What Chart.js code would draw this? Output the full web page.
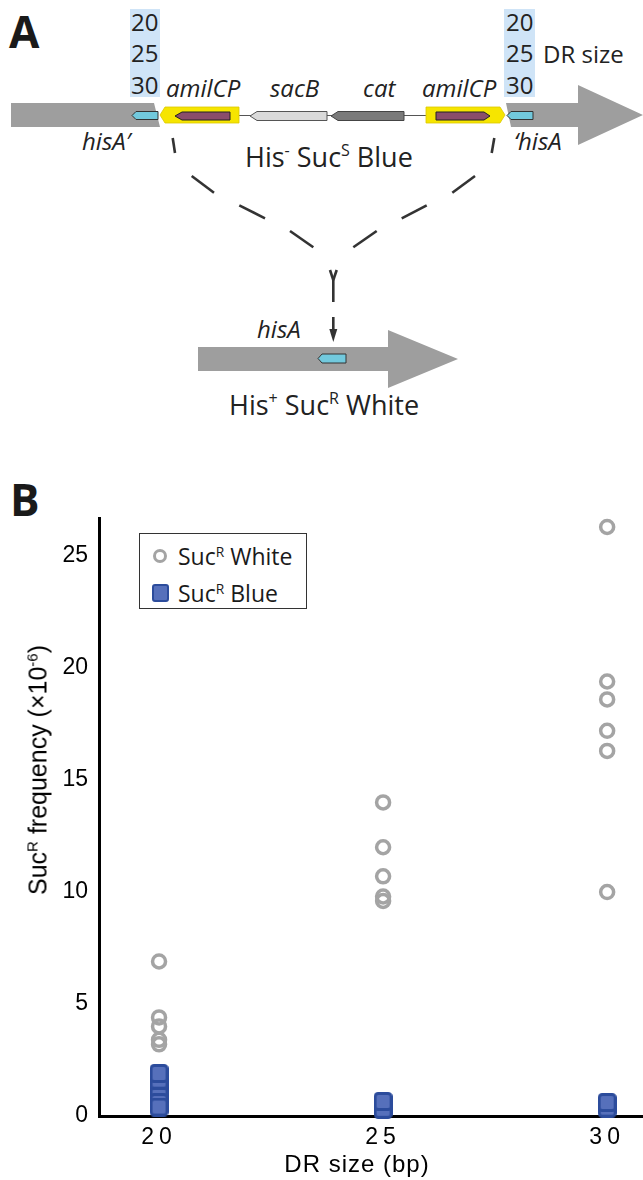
<!DOCTYPE html>
<html>
<head>
<meta charset="utf-8">
<script src="https://cdn.jsdelivr.net/npm/chart.js@4.4.1/dist/chart.umd.min.js"></script>
<style>
  body { margin: 0; width: 643px; height: 1180px; position: relative; overflow: hidden; background: #fff; font-family: "Open Sans", sans-serif; }
  #panelA { position: absolute; left: 0; top: 0; }
  #labelB { position: absolute; left: 10px; top: 469px; font: 700 44px "Open Sans", sans-serif; color: #1a1a1a; }
  #chartB { position: absolute; left: 0; top: 470px; }
  #yTitle { position: absolute; left: 38px; top: 770px; transform: translate(-50%, -50%) rotate(-90deg); white-space: nowrap; font: 25px "Liberation Sans", Arial, sans-serif; color: #000; }
  #yTitle sup, #legend sup { font-size: 0.6em; vertical-align: 0.6em; line-height: 0; }
  #legend { position: absolute; left: 139px; top: 533px; width: 166px; height: 74px; border: 1.5px solid #333; background: #fff; }
  .item { position: absolute; left: 0; height: 30px; display: flex; align-items: center; font: 23px "Open Sans", sans-serif; color: #1a1a1a; }
  .mark { width: 26px; margin-left: 7px; margin-right: 5px; display: flex; justify-content: center; }
</style>
</head>
<body>

<svg id="panelA" width="643" height="440" font-family="Open Sans, sans-serif" fill="#222">
  <text x="9" y="48" font-size="44" font-weight="700" fill="#1a1a1a">A</text>
  <rect x="130" y="9" width="30" height="88" fill="#cfe4f7"/>
  <rect x="504" y="9" width="31" height="88" fill="#cfe4f7"/>
  <g font-size="24">
    <text x="131" y="31">20</text>
    <text x="131" y="62">25</text>
    <text x="131" y="94">30</text>
    <text x="506" y="31">20</text>
    <text x="506" y="62">25</text>
    <text x="506" y="94">30</text>
    <text x="543" y="63">DR size</text>
  </g>

  <!-- chromosome -->
  <polygon points="11,103 154,103 160,127 11,127" fill="#9e9e9e"/>
  <polygon points="506,103 578,103 578,85 643,115 578,145 578,127 511,127" fill="#9e9e9e"/>
  <line x1="239" y1="115.5" x2="426" y2="115.5" stroke="#555" stroke-width="1"/>

  <!-- cassette -->
  <polygon points="160,115 165,107 239,107 239,123 165,123" fill="#f6e500" stroke="#dcc800" stroke-width="0.8"/>
  <polygon points="175,116 182,112 230,112 230,120 182,120" fill="#8a4d6b" stroke="#222" stroke-width="1"/>
  <polygon points="426,107 500,107 505,115 500,123 426,123" fill="#f6e500" stroke="#dcc800" stroke-width="0.8"/>
  <polygon points="436,112 484,112 490,116 484,120 436,120" fill="#8a4d6b" stroke="#222" stroke-width="1"/>
  <polygon points="250,116 257,111.5 327,111.5 327,120.5 257,120.5" fill="#dadada" stroke="#555" stroke-width="1"/>
  <polygon points="331,116 338,111.5 404,111.5 404,120.5 338,120.5" fill="#7a7a7a" stroke="#444" stroke-width="1"/>
  <polygon points="132,115.5 136,111.5 158,111.5 158,119.5 136,119.5" fill="#72c9dd" stroke="#333" stroke-width="1"/>
  <polygon points="507,115.5 511,111.5 533,111.5 533,119.5 511,119.5" fill="#72c9dd" stroke="#333" stroke-width="1"/>

  <g font-size="24" font-style="italic">
    <text x="166" y="97">amilCP</text>
    <text x="270" y="97">sacB</text>
    <text x="363" y="97">cat</text>
    <text x="422" y="97">amilCP</text>
    <text x="82" y="150">hisA′</text>
    <text x="514" y="150">‘hisA</text>
  </g>
  <text x="245" y="167" font-size="27">His<tspan dy="-11" font-size="16">-</tspan><tspan dy="11"> Suc</tspan><tspan dy="-11" font-size="16">S</tspan><tspan dy="11"> Blue</tspan></text>

  <!-- recombination -->
  <g stroke="#333" stroke-width="2.6" fill="none">
    <line x1="172.7" y1="138" x2="175" y2="153"/>
    <line x1="191.7" y1="176" x2="214" y2="192.7"/>
    <line x1="239.3" y1="205.3" x2="265" y2="218.3"/>
    <line x1="290" y1="231" x2="313.3" y2="247.3"/>
    <line x1="494.3" y1="138" x2="491.7" y2="153"/>
    <line x1="475" y1="176" x2="452.3" y2="192.7"/>
    <line x1="426.7" y1="205.3" x2="401.7" y2="218.3"/>
    <line x1="376.7" y1="231" x2="353.3" y2="247.3"/>
    <line x1="330" y1="270" x2="333.3" y2="280"/>
    <line x1="336.7" y1="270" x2="333.3" y2="280"/>
    <line x1="333.3" y1="280" x2="333.3" y2="302"/>
    <line x1="333.3" y1="317" x2="333.3" y2="331"/>
  </g>
  <polygon points="329.3,329 337.3,329 333.3,342" fill="#333"/>

  <!-- product -->
  <polygon points="198,347 388,347 388,330 458,359 388,388 388,371 198,371" fill="#9e9e9e"/>
  <polygon points="318,358.5 322,354 346,354 346,363 322,363" fill="#72c9dd" stroke="#333" stroke-width="1"/>
  <text x="257" y="338" font-size="24" font-style="italic">hisA</text>
  <text x="229" y="415" font-size="27">His<tspan dy="-11" font-size="16">+</tspan><tspan dy="11"> Suc</tspan><tspan dy="-11" font-size="16">R</tspan><tspan dy="11"> White</tspan></text>
</svg>

<div id="labelB">B</div>
<canvas id="chartB" width="643" height="710"></canvas>
<div id="yTitle">Suc<sup>R</sup> frequency (×10<sup>-6</sup>)</div>
<div id="legend"></div>

<script>
"use strict";

// DR size groups and measured Suc-R frequencies (x10^-6)
const categories = [20, 25, 30];
const whiteValues = [
	[6.9, 4.4, 4.0, 3.4, 3.2],
	[14.0, 12.0, 10.7, 9.8, 9.6],
	[26.3, 19.4, 18.6, 17.2, 16.3, 10.0]
];
const blueValues = [
	[1.2, 0.9, 1.6, 0.6, 1.9, 0.4],
	[0.45, 0.3, 0.65],
	[0.35, 0.6]
];
const seriesNames = ['White', 'Blue'];
const xTicks = [20, 25, 30];
const yTicks = [0, 5, 10, 15, 20, 25];

const grey = '#a4a4a4';
const blueEdge = '#2c4c9c';
const blueFill = '#5670bb';

const toPoints = (groups) => groups.flatMap((vals, i) => vals.map(v => ({ x: categories[i], y: v })));

// rounded square marker
const makeSquare = () => {
	const c = document.createElement('canvas');
	c.width = 19;
	c.height = 19;
	const ctx = c.getContext('2d');
	const x = 1.5, y = 1.5, w = 16, h = 16, r = 3;
	ctx.beginPath();
	ctx.moveTo(x + r, y);
	ctx.arcTo(x + w, y, x + w, y + h, r);
	ctx.arcTo(x + w, y + h, x, y + h, r);
	ctx.arcTo(x, y + h, x, y, r);
	ctx.arcTo(x, y, x + w, y, r);
	ctx.closePath();
	ctx.fillStyle = blueFill;
	ctx.fill();
	ctx.lineWidth = 3;
	ctx.strokeStyle = blueEdge;
	ctx.stroke();
	return c;
};
const squareImg = makeSquare();

// x axis text in the figure is spaced out a little and the title sits left of centre
const spacedXAxis = {
	id: 'spacedXAxis',
	beforeDraw: (chart) => {
		const xs = chart.scales.x;
		if (xs._spaced) return;
		xs._spaced = true;
		const ctx = chart.ctx;
		const drawLabels = xs.drawLabels.bind(xs);
		const drawTitle = xs.drawTitle.bind(xs);
		xs.drawLabels = (area) => { ctx.save(); ctx.letterSpacing = '5px'; drawLabels(area); ctx.restore(); };
		xs.drawTitle = () => { ctx.save(); ctx.letterSpacing = '1px'; ctx.translate(-14, 0); drawTitle(); ctx.restore(); };
	}
};

const tickFont = { family: 'Liberation Sans', size: 23 };

const config = {
	type: 'scatter',
	data: {
		datasets: [
			{
				label: 'Suc R ' + seriesNames[0],
				data: toPoints(whiteValues),
				pointStyle: 'circle',
				pointRadius: 6.5,
				borderWidth: 3.5,
				borderColor: grey,
				backgroundColor: 'rgba(0,0,0,0)',
				clip: false
			},
			{
				label: 'Suc R ' + seriesNames[1],
				data: toPoints(blueValues),
				pointStyle: squareImg,
				pointRadius: 9.5,
				clip: false
			}
		]
	},
	options: {
		responsive: false,
		animation: false,
		devicePixelRatio: 1,
		layout: { autoPadding: false, padding: { top: 48, left: 0, right: 0, bottom: 0 } },
		plugins: { legend: { display: false }, tooltip: { enabled: false } },
		scales: {
			x: {
				type: 'linear',
				min: 18.66,
				max: 30.8,
				afterBuildTicks: (s) => { s.ticks = xTicks.map(v => ({ value: v })); },
				afterFit: (s) => { s.height = 64; s.paddingLeft = 0; s.paddingRight = 0; },
				grid: { display: false, drawTicks: false },
				border: { color: '#000', width: 3 },
				ticks: { color: '#000', font: tickFont, padding: 8, maxRotation: 0 },
				title: { display: true, text: 'DR size (bp)', color: '#000', font: { family: 'Liberation Sans', size: 24 }, padding: { top: 0, bottom: 0 } }
			},
			y: {
				min: 0,
				max: 26.7,
				afterBuildTicks: (s) => { s.ticks = yTicks.map(v => ({ value: v })); },
				afterFit: (s) => { s.width = 99; s.paddingTop = 0; s.paddingBottom = 0; },
				grid: { display: false, drawTicks: false },
				border: { color: '#000', width: 3 },
				ticks: { color: '#000', font: tickFont, padding: 11 }
			}
		}
	},
	plugins: [spacedXAxis]
};

new Chart(document.getElementById('chartB'), config);

// legend with superscripts
const legend = document.getElementById('legend');
seriesNames.forEach((name, i) => {
	const item = document.createElement('div');
	item.className = 'item';
	item.style.top = (7 + i * 37) + 'px';
	const mark = document.createElement('span');
	mark.className = 'mark';
	if (i === 0) {
		mark.innerHTML = '<span style="display:block;width:8px;height:8px;border:3.5px solid ' + grey + ';border-radius:50%"></span>';
	} else {
		mark.innerHTML = '<span style="display:block;width:13px;height:14px;border:2.5px solid ' + blueEdge + ';border-radius:3px;background:' + blueFill + '"></span>';
	}
	const txt = document.createElement('span');
	txt.innerHTML = 'Suc<sup>R</sup> ' + name;
	item.appendChild(mark);
	item.appendChild(txt);
	legend.appendChild(item);
});
</script>
</body>
</html>
